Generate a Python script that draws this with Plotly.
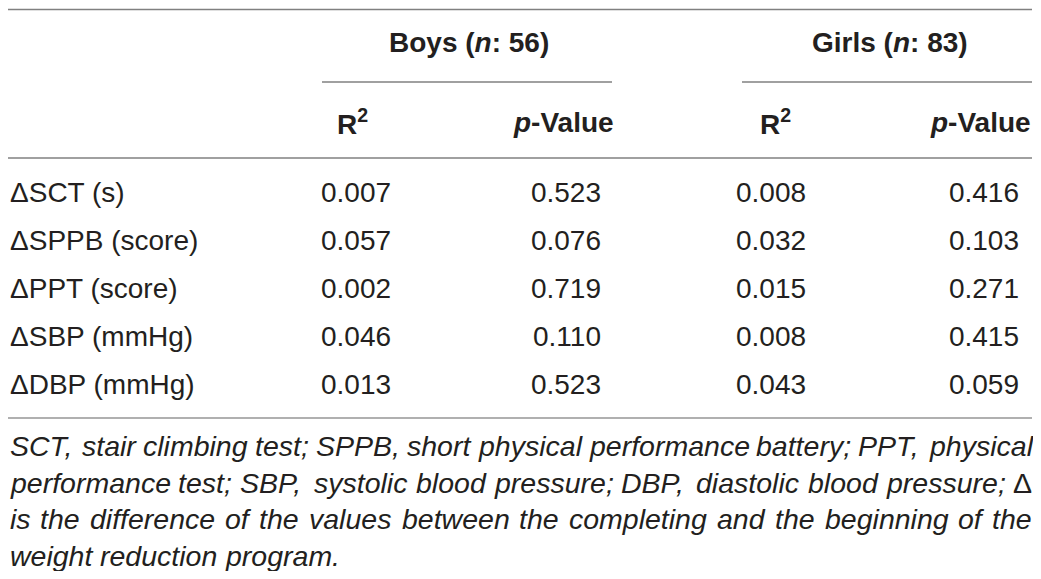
import plotly.graph_objects as go

# table content
row_labels = ['ΔSCT (s)', 'ΔSPPB (score)', 'ΔPPT (score)', 'ΔSBP (mmHg)', 'ΔDBP (mmHg)']
boys_r2 = ['0.007', '0.057', '0.002', '0.046', '0.013']
boys_p = ['0.523', '0.076', '0.719', '0.110', '0.523']
girls_r2 = ['0.008', '0.032', '0.015', '0.008', '0.043']
girls_p = ['0.416', '0.103', '0.271', '0.415', '0.059']
group_headers = ['<b>Boys (<i>n</i>: 56)</b>', '<b>Girls (<i>n</i>: 83)</b>']
sub_headers = ['<b>R<sup>2</sup></b>', '<b><i>p</i>-Value</b>']
footnote_lines = [
    'SCT, stair climbing test; SPPB, short physical performance battery; PPT, physical',
    'performance test; SBP, systolic blood pressure; DBP, diastolic blood pressure; Δ',
    'is the difference of the values between the completing and the beginning of the',
    'weight reduction program.',
]

FONT = 'Liberation Sans, Arial, sans-serif'
TXT = '#231f20'
# the page body has an 8px margin: size the figure so it fits the window and
# let the axes run in window pixels
PAD = 8
W, H = 1041, 579

# Arial / Liberation Sans advance widths (1/1000 em) for justifying the note
ADV = dict(a=556, b=556, c=500, d=556, e=556, f=278, g=556, h=556, i=222, j=222, k=500,
           l=222, m=833, n=556, o=556, p=556, q=556, r=333, s=500, t=278, u=556, v=500,
           w=722, x=500, y=500, z=500, B=667, C=722, D=722, P=667, S=667, T=611)
ADV.update({',': 278, ';': 278, '.': 278, ' ': 278, 'Δ': 668})


def text_w(s, size):
    return sum(ADV.get(ch, 556) for ch in s) * size / 1000.0


row_y = [195 + 48 * i for i in range(len(row_labels))]

fig = go.Figure()

cols = [
    (row_labels, 10, 'middle right'),
    (boys_r2, 321, 'middle right'),
    (boys_p, 601, 'middle left'),
    (girls_r2, 736, 'middle right'),
    (girls_p, 1019, 'middle left'),
]
for vals, xpos, pos in cols:
    fig.add_trace(go.Scatter(
        x=[xpos] * len(vals), y=row_y, text=vals, mode='text',
        textposition=pos, marker=dict(size=1),
        textfont=dict(family=FONT, size=28, color=TXT),
        hoverinfo='skip', showlegend=False, cliponaxis=False,
    ))

annotations = []
for txt, xc in zip(group_headers, [469, 890]):
    annotations.append(dict(x=xc, y=42, xref='x', yref='y', text=txt, showarrow=False,
                            xanchor='center', yanchor='middle',
                            font=dict(family=FONT, size=28, color=TXT)))
for xl, xr in [(335, 616), (758, 1033)]:
    annotations.append(dict(x=xl, y=122, xref='x', yref='y', text=sub_headers[0],
                            showarrow=False, xanchor='left', yanchor='middle',
                            font=dict(family=FONT, size=28, color=TXT)))
    annotations.append(dict(x=xr, y=122, xref='x', yref='y', text=sub_headers[1],
                            showarrow=False, xanchor='right', yanchor='middle',
                            font=dict(family=FONT, size=28, color=TXT)))

# justified footnote, word by word
fsize = 28.5
left, right = 8.5, 1031
for k, line in enumerate(footnote_lines):
    words = line.split(' ')
    yy = 446 + 36.5 * k
    widths = [text_w(wd, fsize) for wd in words]
    if k < len(footnote_lines) - 1:
        gap = (right - left - sum(widths)) / (len(words) - 1)
    else:
        gap = text_w(' ', fsize)
    xx = left
    for wd, ww in zip(words, widths):
        t = wd if wd == 'Δ' else '<i>' + wd + '</i>'
        annotations.append(dict(x=xx, y=yy, xref='x', yref='y', text=t, showarrow=False,
                                xanchor='left', yanchor='middle', borderpad=0,
                                font=dict(family=FONT, size=fsize, color=TXT)))
        xx += ww + gap

shapes = [
    dict(type='line', x0=8, x1=1032, y0=9.5, y1=9.5, line=dict(color='#808080', width=1.3)),
    dict(type='line', x0=322, x1=612, y0=82, y1=82, line=dict(color='#808080', width=1.3)),
    dict(type='line', x0=742, x1=1032, y0=82, y1=82, line=dict(color='#808080', width=1.3)),
    dict(type='line', x0=8, x1=1032, y0=158, y1=158, line=dict(color='#808080', width=1.3)),
    dict(type='line', x0=8, x1=1032, y0=418, y1=418, line=dict(color='#b0b0b0', width=2.2)),
]
for s in shapes:
    s.update(xref='x', yref='y', layer='above')

fig.update_layout(
    width=W - PAD, height=H - 2 * PAD, margin=dict(l=0, r=0, t=0, b=0),
    plot_bgcolor='white', paper_bgcolor='white',
    annotations=annotations, shapes=shapes, showlegend=False,
)
fig.update_xaxes(range=[PAD, W], visible=False, fixedrange=True)
fig.update_yaxes(range=[H - PAD, PAD], visible=False, fixedrange=True)

fig.write_html('out.html')
